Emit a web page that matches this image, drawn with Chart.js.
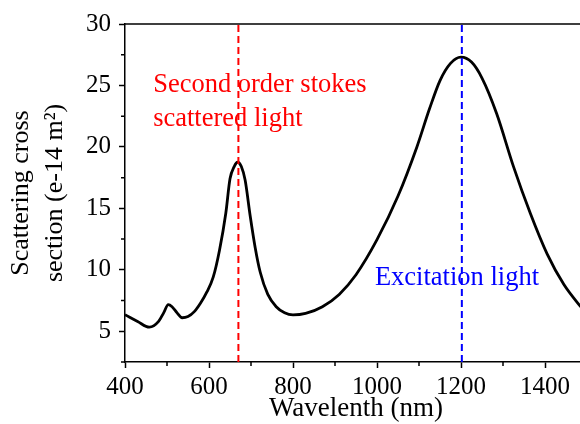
<!DOCTYPE html>
<html><head><meta charset="utf-8">
<script src="https://cdn.jsdelivr.net/npm/chart.js@4/dist/chart.umd.min.js"></script>
<style>
html,body{margin:0;padding:0;background:#fff;overflow:hidden;width:580px;height:424px}
#wrap{width:587px;height:424px}
</style></head>
<body><div id="wrap"><canvas id="c" width="587" height="424"></canvas></div>
<script>
const wavelength = [400, 430, 458, 480, 492, 503, 512, 524, 536, 550, 565, 580, 595, 610, 625, 640, 650, 660, 668, 677, 686, 698, 710, 722, 740, 760, 780, 800, 830, 870, 910, 950, 1000, 1050, 1095, 1125, 1150, 1175, 1200, 1225, 1250, 1285, 1325, 1365, 1405, 1445, 1485, 1500];
const crossSection = [6.35, 5.8, 5.33, 5.8, 6.5, 7.17, 7.0, 6.5, 6.1, 6.2, 6.6, 7.3, 8.2, 9.4, 11.6, 14.6, 17.4, 18.4, 18.75, 18.4, 17.3, 14.4, 11.8, 9.8, 8.0, 7.0, 6.5, 6.33, 6.45, 7.0, 8.0, 9.6, 12.45, 16.0, 20.0, 23.1, 25.4, 26.8, 27.3, 26.9, 25.6, 22.7, 18.4, 14.6, 11.3, 8.8, 7.0, 6.4];
const xMajorTicks = [400, 600, 800, 1000, 1200, 1400];
const xMinorTicks = [500, 700, 900, 1100, 1300, 1500];
const yMajorTicks = [5, 10, 15, 20, 25, 30];
const yMinorTicks = [2.5, 7.5, 12.5, 17.5, 22.5, 27.5];
const stokesLineX = 670;
const excitationLineX = 1202;
const labelTexts = ['Second order stokes', 'scattered light', 'Excitation light'];
const labelX = [467, 467, 995];
const labelY = [24.5, 21.7, 8.8];
const labelColors = ['#ff0000', '#ff0000', '#0000ff'];
const xTitle = 'Wavelenth (nm)';
const yTitle = ['Scattering cross', 'section (e-14 m\u00b2)'];

const FONT = "'Liberation Serif', 'Times New Roman', serif";
const xMin = 400, xMax = 1500, yMin = 2.5, yMax = 30;

const extras = {
  id: 'extras',
  afterDraw(chart) {
    const ctx = chart.ctx, a = chart.chartArea;
    const xs = chart.scales.x, ys = chart.scales.y;
    ctx.save();
    ctx.strokeStyle = '#000';
    ctx.lineWidth = 1.5;
    ctx.beginPath();
    ctx.moveTo(a.left, a.top); ctx.lineTo(a.right, a.top);
    xMinorTicks.forEach(v => { const p = xs.getPixelForValue(v); ctx.moveTo(p, a.bottom); ctx.lineTo(p, a.bottom + 4); });
    yMinorTicks.forEach(v => { const p = ys.getPixelForValue(v); ctx.moveTo(a.left, p); ctx.lineTo(a.left - 4, p); });
    ctx.stroke();
    ctx.font = '26.5px ' + FONT;
    ctx.textAlign = 'left';
    ctx.textBaseline = 'alphabetic';
    labelTexts.forEach((t, i) => {
      ctx.fillStyle = labelColors[i];
      ctx.fillText(t, xs.getPixelForValue(labelX[i]), ys.getPixelForValue(labelY[i]));
    });
    ctx.restore();
  }
};

new Chart(document.getElementById('c'), {
  type: 'line',
  data: {
    datasets: [
      { data: [{x: stokesLineX, y: yMin}, {x: stokesLineX, y: yMax}], borderColor: '#ff0000', borderWidth: 2, borderDash: [7, 4], pointRadius: 0, tension: 0 },
      { data: [{x: excitationLineX, y: yMin}, {x: excitationLineX, y: yMax}], borderColor: '#0000ff', borderWidth: 2, borderDash: [7, 4], pointRadius: 0, tension: 0 },
      { data: wavelength.map((w, i) => ({x: w, y: crossSection[i]})), borderColor: '#000', borderWidth: 2.8, pointRadius: 0, cubicInterpolationMode: 'monotone' }
    ]
  },
  options: {
    responsive: false,
    animation: false,
    devicePixelRatio: 1,
    layout: { padding: { top: 24, left: 0, right: 0, bottom: 0 } },
    plugins: { legend: { display: false }, tooltip: { enabled: false } },
    scales: {
      x: {
        type: 'linear', min: xMin, max: xMax,
        afterBuildTicks: s => { s.ticks = xMajorTicks.map(v => ({value: v})); },
        afterFit: s => { s.height = 62; },
        grid: { display: true, drawOnChartArea: false, drawTicks: true, tickLength: 6, tickWidth: 1.5, tickColor: '#000' },
        border: { display: true, color: '#000', width: 1.5 },
        ticks: { color: '#000', padding: 4, maxRotation: 0, callback: v => String(v), font: { family: FONT, size: 25 } },
        title: { display: true, text: xTitle, color: '#000', padding: { top: 0, bottom: 0 }, font: { family: FONT, size: 27, lineHeight: 1.1 } }
      },
      y: {
        type: 'linear', min: yMin, max: yMax,
        afterBuildTicks: s => { s.ticks = yMajorTicks.map(v => ({value: v})); },
        afterFit: s => { s.width = 125; },
        grid: { display: true, drawOnChartArea: false, drawTicks: true, tickLength: 6, tickWidth: 1.5, tickColor: '#000' },
        border: { display: true, color: '#000', width: 1.5 },
        ticks: { color: '#000', padding: 8, callback: v => String(v), font: { family: FONT, size: 25 } },
        title: { display: true, text: yTitle, color: '#000', padding: { top: 4, bottom: 0 }, font: { family: FONT, size: 26, lineHeight: 1.3 } }
      }
    }
  },
  plugins: [extras]
});
</script>
</body></html>
